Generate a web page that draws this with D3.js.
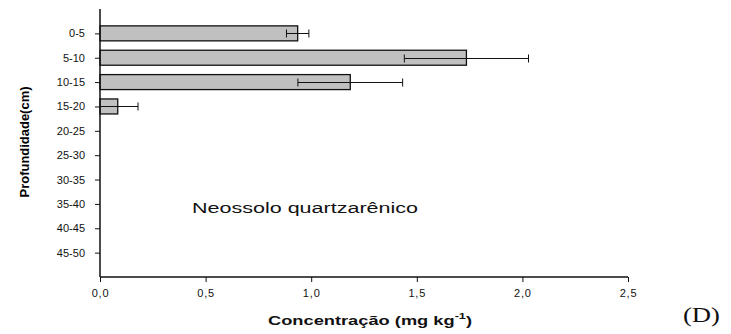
<!DOCTYPE html>
<html>
<head>
<meta charset="utf-8">
<script src="https://cdn.jsdelivr.net/npm/d3@7"></script>
<style>
  html, body { margin: 0; padding: 0; background: #fff; }
  svg { display: block; }
</style>
</head>
<body>
<svg id="chart" width="731" height="334"></svg>
<script>
// Depth layers (cm) and mean concentration with standard error
const depths = ["0-5", "5-10", "10-15", "15-20", "20-25", "25-30", "30-35", "35-40", "40-45", "45-50"];
const values = [0.936, 1.735, 1.185, 0.084, null, null, null, null, null, null];
const errors = [0.053, 0.294, 0.248, 0.096, null, null, null, null, null, null];
const xTicks = [0, 0.5, 1.0, 1.5, 2.0, 2.5];

const svg = d3.select("#chart");
const plotLeft = 100, plotRight = 628, plotTop = 9, plotBottom = 277;
const sans = "Arial, 'Liberation Sans', sans-serif";

const x = d3.scaleLinear().domain([0, 2.5]).range([plotLeft, plotRight]);
const y = d3.scalePoint().domain(depths).range([plotTop, plotBottom]).padding(1);
const barH = 15;

const fmt = d => d3.format(".1f")(d).replace(".", ",");

// Bars
const rows = depths.map((d, i) => ({ d, v: values[i], e: errors[i] })).filter(r => r.v != null);

svg.append("g").selectAll("rect").data(rows).join("rect")
  .attr("x", x(0))
  .attr("y", r => y(r.d) - barH / 2)
  .attr("width", r => x(r.v) - x(0))
  .attr("height", barH)
  .attr("fill", "#c0c0c0")
  .attr("stroke", "#111")
  .attr("stroke-width", 1.3);

// Error bars
const eb = svg.append("g").attr("stroke", "#111").attr("stroke-width", 1);
rows.forEach(r => {
  const lo = Math.max(0, r.v - r.e), hi = r.v + r.e, cy = Math.round(y(r.d)) + 0.5;
  eb.append("line").attr("x1", x(lo)).attr("x2", x(hi)).attr("y1", cy).attr("y2", cy);
  if (r.v - r.e > 0) eb.append("line").attr("x1", x(lo)).attr("x2", x(lo)).attr("y1", cy - 4).attr("y2", cy + 4);
  eb.append("line").attr("x1", x(hi)).attr("x2", x(hi)).attr("y1", cy - 4).attr("y2", cy + 4);
});

// Y axis
const yAxis = svg.append("g")
  .attr("transform", `translate(${plotLeft},0)`)
  .call(d3.axisLeft(y).tickSize(5).tickPadding(10));
yAxis.select(".domain").attr("d", `M0,${plotTop}V${plotBottom}`).attr("stroke", "#111").attr("stroke-width", 1.5);
yAxis.selectAll(".tick line").attr("stroke", "#111");
yAxis.selectAll("text").attr("font-family", sans).attr("font-size", 11).attr("fill", "#111");

// X axis
const xAxis = svg.append("g")
  .attr("transform", `translate(0,${plotBottom})`)
  .call(d3.axisBottom(x).tickValues(xTicks).tickFormat(fmt).tickSize(5).tickPadding(7));
xAxis.select(".domain").attr("d", `M${plotLeft},0H${plotRight}`).attr("stroke", "#111").attr("stroke-width", 1.5);
xAxis.selectAll(".tick line").attr("stroke", "#111");
xAxis.selectAll("text").attr("font-family", sans).attr("font-size", 11).attr("letter-spacing", 0.8).attr("fill", "#111");

// Axis titles
svg.append("text")
  .attr("transform", "translate(29,142) rotate(-90) scale(1,1.3)")
  .attr("text-anchor", "middle")
  .attr("font-family", sans)
  .attr("font-weight", "bold")
  .attr("font-size", 10)
  .attr("textLength", 111)
  .attr("lengthAdjust", "spacingAndGlyphs")
  .text("Profundidade(cm)");

const xt = svg.append("text")
  .attr("x", 268).attr("y", 325)
  .attr("font-family", sans)
  .attr("font-weight", "bold")
  .attr("font-size", 13)
  .attr("textLength", 204)
  .attr("lengthAdjust", "spacingAndGlyphs")
  .attr("fill", "#111");
xt.append("tspan").text("Concentração (mg kg");
xt.append("tspan").attr("dy", -6).attr("font-size", 9).text("-1");
xt.append("tspan").attr("dy", 6).text(")");

// Annotation
svg.append("text")
  .attr("x", 192).attr("y", 213)
  .attr("font-family", sans)
  .attr("font-size", 14)
  .attr("textLength", 226)
  .attr("lengthAdjust", "spacingAndGlyphs")
  .attr("fill", "#111")
  .text("Neossolo quartzarênico");

// Panel letter
svg.append("text")
  .attr("x", 683).attr("y", 322)
  .attr("font-family", "'Times New Roman', 'Liberation Serif', serif")
  .attr("font-size", 22)
  .attr("textLength", 37)
  .attr("lengthAdjust", "spacingAndGlyphs")
  .attr("fill", "#111")
  .text("(D)");
</script>
</body>
</html>
